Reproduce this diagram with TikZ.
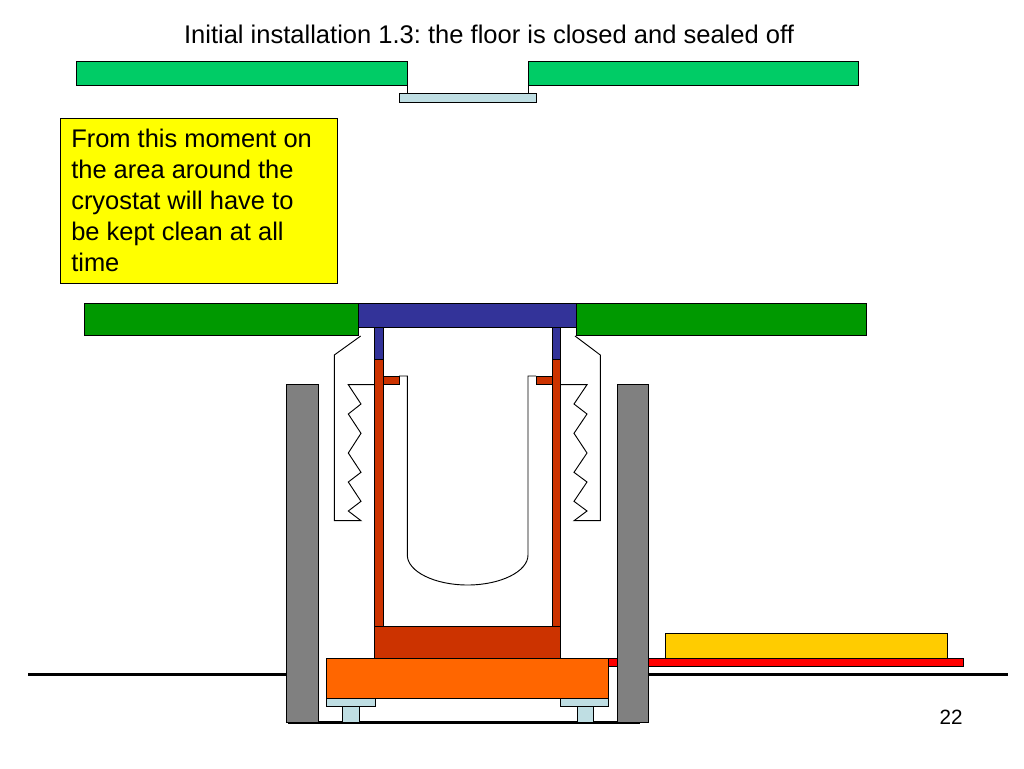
\documentclass[tikz,border=0pt]{standalone}
\usepackage{fontspec}
\setmainfont{Liberation Sans}
\frenchspacing
\definecolor{floortop}{HTML}{00CC66}
\definecolor{floorlow}{HTML}{009900}
\definecolor{plateblue}{HTML}{333399}
\definecolor{rustred}{HTML}{CC3300}
\definecolor{baseorange}{HTML}{FF6600}
\definecolor{wallgray}{HTML}{808080}
\definecolor{palecyan}{HTML}{BFDEE3}
\definecolor{railgold}{HTML}{FFCC00}
\definecolor{notefill}{HTML}{FFFF00}
\definecolor{railred}{HTML}{FF0000}
\tikzset{
  part/.style={draw=black,line width=0.6pt},
  outline/.style={draw=black,line width=0.7pt,line join=miter},
  groundline/.style={draw=black,line width=2.2pt}
}
\begin{document}
\begin{tikzpicture}[x=0.75pt,y=-0.75pt]
	\useasboundingbox (0,0) rectangle (1024,768);
	\newcommand{\zigL}
	{(334.3,355)(334.3,520.7)(361,520.7)(348.3,511)(361,501.3)(348.3,482)(361,472.3)(348.3,453)(361,433.3)(348.3,414)(361,404)(348.3,384.7)(375,384.7)}
	\newcommand{\zigR}
	{(600.3,355)(600.3,520.7)(574,520.7)(587,511)(574,501.3)(587,482)(574,472.3)(587,453)(574,433.3)(587,414)(574,404)(587,384.7)(560.7,384.7)}
	% title and page number
	\node (title) at (489,34.5) {\fontsize{19.15}{23}\selectfont Initial installation 1.3: the floor is closed and sealed off};
	\node (pagenum) at (951,717) {\fontsize{15.5}{18}\selectfont 22};
	% upper floor
	\draw[part,fill=floortop] (76.5,61) rectangle (407.2,85.5);
	\draw[part,fill=floortop] (528,61) rectangle (858.7,85.5);
	\draw[outline] (407.2,85.5)--(407.2,93.5);
	\draw[outline] (528,85.5)--(528,93.5);
	\draw[part,fill=palecyan] (399,93.5) rectangle (536,102);
	% note
	\node[draw=black,line width=0.6pt,fill=notefill,minimum width=277*0.75pt,minimum height=165*0.75pt,anchor=north west,inner sep=0pt] (note) at (59.5,118) {};
	\node[anchor=north west,inner sep=0pt,align=left,font=\fontsize{19.1}{23.25}\selectfont] (notetext) at (71,128.5)
	{From this moment on\\the area around the\\cryostat will have to\\be kept clean at all\\time};
	% ground
	\draw[groundline] (28,674.5)--(290,674.5);
	\draw[groundline] (645,674.5)--(1008,674.5);
	\draw[groundline] (288,722.5)--(640,722.5);
	% rail
	\draw[part,fill=railred] (605,658) rectangle (963.7,666.5);
	\draw[part,fill=railgold] (665,633.5) rectangle (947,658);
	% walls
	\draw[part,fill=wallgray] (286,384) rectangle (318.7,722.5);
	\draw[part,fill=wallgray] (617,384) rectangle (648.7,722.5);
	% lower floor and top plate
	\draw[part,fill=floorlow] (84.5,303) rectangle (358.5,335);
	\draw[part,fill=floorlow] (576.7,303) rectangle (866.7,335);
	\draw[part,fill=plateblue] (358.5,303) rectangle (576.7,327);
	\draw[part,fill=plateblue] (374.5,327) rectangle (383,359);
	\draw[part,fill=plateblue] (552,327) rectangle (560.5,359);
	% bellows
	\draw[outline] (360.7,336) -- plot coordinates {\zigL};
	\draw[outline] (575,336) -- plot coordinates {\zigR};
	% vessel
	\draw[outline] (399,376)--(407.3,376)--(407.3,555) .. controls (407.3,571.5) and (434.6,585) .. (467.6,585)
		.. controls (500.6,585) and (528,571.5) .. (528,555)--(528,376)--(536,376);
	\draw[part,fill=rustred] (382.7,376) rectangle (399.5,384);
	\draw[part,fill=rustred] (536,376) rectangle (552,384);
	\draw[part,fill=rustred] (374.5,359) rectangle (383,626);
	\draw[part,fill=rustred] (552,359) rectangle (560.5,626);
	\draw[part,fill=rustred] (374.5,626) rectangle (560.5,658);
	% base
	\draw[part,fill=baseorange] (326.5,658) rectangle (608.7,698);
	\draw[part,fill=palecyan] (326.5,698) rectangle (375,706.5);
	\draw[part,fill=palecyan] (560,698) rectangle (608.7,706.5);
	\draw[part,fill=palecyan] (342.5,706.5) rectangle (359,722);
	\draw[part,fill=palecyan] (577,706.5) rectangle (593,722);
\end{tikzpicture}
\end{document}
